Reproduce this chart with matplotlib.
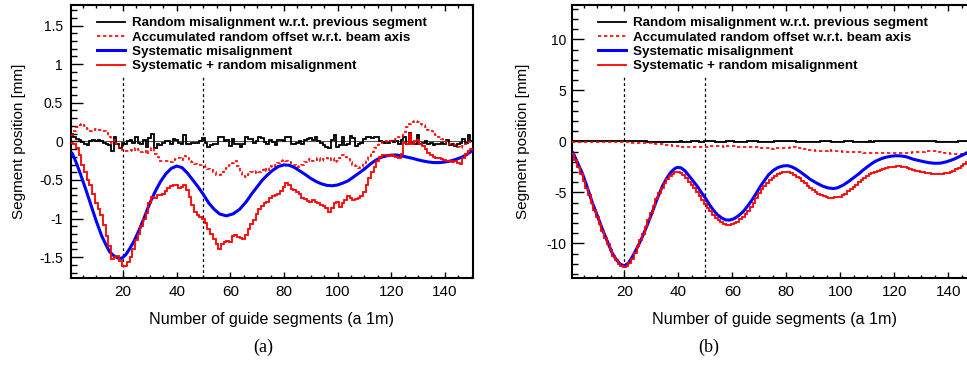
import numpy as np
import matplotlib
matplotlib.use("Agg")
import matplotlib.pyplot as plt
from matplotlib.lines import Line2D
from matplotlib.ticker import MultipleLocator, FuncFormatter

plt.rcParams['font.family'] = ['Liberation Sans', 'DejaVu Sans']
plt.rcParams['axes.unicode_minus'] = False

# ---------------- data: panel (a) ----------------
segments = np.arange(1, 151)

a_random = [0.10, 0.06, 0.03, 0.02, -0.01, -0.03, -0.05, 0.00, 0.02, 0.01,
            0.02, 0.00, -0.02, -0.03, -0.05, -0.13, 0.06, -0.03, -0.09, -0.02,
            -0.03, 0.01, 0.02, -0.02, 0.06, -0.02, -0.03, 0.02, -0.07, 0.04,
            0.09, -0.09, -0.03, -0.05, -0.02, 0.01, 0.01, -0.03, 0.03, 0.02,
            -0.02, -0.03, 0.08, -0.03, -0.03, -0.02, -0.02, -0.02, 0.01, 0.04,
            -0.02, -0.07, -0.05, -0.03, -0.03, 0.06, 0.05, 0.00, 0.02, -0.06,
            0.03, -0.04, -0.03, -0.07, -0.04, 0.06, 0.03, 0.03, -0.02, 0.01,
            0.05, 0.04, -0.01, -0.03, 0.02, -0.01, -0.05, 0.02, 0.02, 0.01,
            0.06, 0.05, -0.04, -0.04, -0.02, 0.01, -0.04, 0.02, 0.03, 0.04,
            0.02, 0.06, 0.01, -0.02, -0.05, -0.07, -0.08, 0.02, 0.08, -0.07,
            -0.05, 0.05, -0.05, -0.04, 0.07, 0.04, -0.06, -0.03, -0.02, 0.03,
            0.05, 0.06, 0.04, 0.06, 0.05, 0.00, -0.01, -0.02, -0.02, 0.01,
            -0.01, 0.00, -0.03, 0.02, 0.06, -0.04, 0.11, -0.02, -0.03, 0.08,
            -0.04, -0.02, 0.01, -0.03, -0.02, -0.05, -0.04, -0.04, -0.02, -0.03,
            0.02, -0.05, -0.04, -0.06, -0.03, -0.02, 0.03, -0.02, 0.08, 0.00]

a_accum = [0.08, 0.14, 0.18, 0.21, 0.22, 0.20, 0.16, 0.14, 0.15, 0.16,
           0.15, 0.15, 0.13, 0.11, 0.05, -0.02, 0.02, -0.03, -0.09, -0.11,
           -0.13, -0.12, -0.11, -0.13, -0.08, -0.11, -0.14, -0.13, -0.17, -0.12,
           -0.09, -0.16, -0.20, -0.25, -0.26, -0.26, -0.25, -0.27, -0.24, -0.23,
           -0.22, -0.24, -0.19, -0.22, -0.25, -0.27, -0.29, -0.31, -0.30, -0.30,
           -0.33, -0.36, -0.37, -0.40, -0.43, -0.44, -0.40, -0.36, -0.34, -0.30,
           -0.28, -0.26, -0.32, -0.40, -0.45, -0.46, -0.42, -0.40, -0.41, -0.39,
           -0.40, -0.37, -0.35, -0.38, -0.32, -0.33, -0.30, -0.28, -0.26, -0.24,
           -0.25, -0.27, -0.29, -0.31, -0.33, -0.32, -0.30, -0.27, -0.25, -0.23,
           -0.26, -0.24, -0.22, -0.25, -0.23, -0.21, -0.24, -0.22, -0.27, -0.25,
           -0.21, -0.18, -0.20, -0.23, -0.27, -0.30, -0.32, -0.34, -0.33, -0.28,
           -0.24, -0.19, -0.14, -0.09, -0.05, -0.02, -0.01, 0.00, -0.01, 0.00,
           0.01, 0.03, 0.05, 0.07, 0.12, 0.18, 0.22, 0.25, 0.26, 0.25,
           0.23, 0.21, 0.18, 0.15, 0.13, 0.10, 0.08, 0.05, 0.03, 0.01,
           -0.02, -0.03, -0.04, -0.05, -0.07, -0.08, -0.06, -0.04, -0.01, 0.01]

a_sys_x = [1, 2.5, 4, 6, 8, 10, 12, 13.5, 15, 16.5, 18, 19.5, 21, 22.5, 24, 26,
           28, 30, 32, 34, 36, 38, 40, 42, 44, 46, 48, 50, 52, 54, 56, 58.5,
           61, 63.5, 66, 68, 70, 72, 74, 76, 78, 80, 82, 84, 86, 88, 90, 92,
           94, 96, 98, 100, 102, 104, 106, 108, 110, 112, 114, 116, 118, 120,
           122, 124, 126, 128, 130, 132, 134, 136, 138, 140, 142, 144, 146,
           148, 150]
a_sys_y = [-0.15, -0.27, -0.41, -0.61, -0.82, -1.03, -1.22, -1.33, -1.43, -1.48,
           -1.51, -1.515, -1.47, -1.39, -1.30, -1.15, -0.98, -0.80, -0.65, -0.52,
           -0.42, -0.35, -0.32, -0.34, -0.41, -0.50, -0.59, -0.69, -0.80, -0.88,
           -0.94, -0.965, -0.94, -0.88, -0.78, -0.68, -0.59, -0.50, -0.43, -0.37,
           -0.325, -0.305, -0.31, -0.34, -0.385, -0.43, -0.48, -0.52, -0.55,
           -0.57, -0.575, -0.565, -0.54, -0.51, -0.46, -0.41, -0.36, -0.30,
           -0.25, -0.21, -0.19, -0.178, -0.177, -0.19, -0.205, -0.22, -0.24,
           -0.255, -0.268, -0.275, -0.275, -0.268, -0.255, -0.235, -0.21,
           -0.175, -0.125]

a_total = [-0.02, -0.04, -0.08, -0.18, -0.30, -0.40, -0.50, -0.57, -0.68, -0.80,
           -0.88, -0.96, -1.08, -1.22, -1.35, -1.52, -1.50, -1.49, -1.55, -1.61,
           -1.61, -1.56, -1.50, -1.40, -1.28, -1.20, -1.10, -1.00, -0.93, -0.80,
           -0.72, -0.74, -0.70, -0.70, -0.68, -0.64, -0.60, -0.58, -0.56, -0.57,
           -0.60, -0.59, -0.57, -0.63, -0.72, -0.82, -0.91, -0.96, -0.98, -1.00,
           -1.06, -1.13, -1.20, -1.27, -1.33, -1.39, -1.33, -1.30, -1.29, -1.30,
           -1.22, -1.21, -1.24, -1.25, -1.26, -1.21, -1.13, -1.07, -1.02, -0.94,
           -0.88, -0.84, -0.80, -0.78, -0.74, -0.71, -0.70, -0.68, -0.64, -0.59,
           -0.54, -0.57, -0.62, -0.63, -0.65, -0.68, -0.73, -0.75, -0.77, -0.78,
           -0.76, -0.78, -0.80, -0.82, -0.84, -0.86, -0.92, -0.86, -0.80, -0.78,
           -0.85, -0.80, -0.76, -0.71, -0.73, -0.76, -0.75, -0.73, -0.71, -0.65,
           -0.57, -0.48, -0.40, -0.33, -0.25, -0.20, -0.18, -0.18, -0.19, -0.18,
           -0.19, -0.20, -0.21, -0.16, -0.02, -0.04, 0.10, -0.03, 0.01, 0.02,
           -0.03, -0.06, -0.10, -0.15, -0.18, -0.20, -0.21, -0.22, -0.23, -0.24,
           -0.25, -0.26, -0.27, -0.26, -0.28, -0.29, -0.22, -0.16, -0.13, -0.10]

# ---------------- data: panel (b) ----------------
b_random = [0.01, -0.01, 0.00, -0.01, -0.01, 0.00, -0.01, 0.00, -0.01, 0.00,
            -0.01, 0.00, -0.01, 0.00, -0.01, 0.00, 0.01, 0.00, -0.01, 0.00,
            0.00, -0.01, -0.01, 0.00, -0.01, -0.01, 0.00, -0.01, -0.02, -0.02,
            -0.02, -0.03, -0.03, -0.03, -0.03, -0.03, -0.04, -0.04, -0.04, -0.02,
            0.00, -0.02, -0.03, -0.02, -0.01, 0.02, 0.01, -0.02, -0.02, 0.03,
            0.04, 0.06, 0.03, -0.02, -0.03, -0.02, -0.02, 0.02, 0.02, 0.01,
            -0.03, -0.03, -0.02, -0.02, -0.02, 0.01, 0.02, 0.02, -0.01, -0.03,
            -0.04, -0.03, -0.03, -0.02, -0.02, 0.02, 0.01, 0.01, 0.02, 0.02,
            0.02, 0.02, 0.00, -0.02, -0.04, -0.04, -0.05, -0.05, -0.05, -0.04,
            -0.03, -0.02, 0.01, 0.01, 0.02, 0.02, -0.02, -0.03, -0.03, -0.02,
            -0.02, -0.01, -0.01, 0.01, -0.02, -0.02, -0.02, -0.02, -0.02, -0.02,
            -0.01, -0.02, -0.01, -0.01, 0.00, 0.01, 0.01, 0.01, 0.01, 0.01,
            0.01, 0.00, 0.01, 0.01, 0.00, 0.00, 0.01, 0.02, 0.02, 0.02,
            0.02, 0.02, 0.02, 0.01, 0.01, -0.02, -0.03, -0.05, -0.05, -0.05,
            -0.05, -0.03, -0.02, 0.00, 0.01, 0.02, 0.02, -0.02, -0.03, -0.02]

b_accum = [-0.02, -0.03, -0.03, -0.04, -0.05, -0.05, -0.06, -0.06, -0.07, -0.07,
           -0.08, -0.08, -0.09, -0.09, -0.10, -0.10, -0.09, -0.09, -0.10, -0.10,
           -0.10, -0.11, -0.12, -0.12, -0.13, -0.14, -0.14, -0.15, -0.17, -0.19,
           -0.21, -0.24, -0.27, -0.30, -0.33, -0.36, -0.40, -0.44, -0.48, -0.50,
           -0.50, -0.52, -0.55, -0.57, -0.58, -0.56, -0.55, -0.57, -0.59, -0.56,
           -0.52, -0.46, -0.43, -0.45, -0.48, -0.50, -0.52, -0.50, -0.48, -0.47,
           -0.50, -0.53, -0.55, -0.57, -0.59, -0.58, -0.56, -0.54, -0.55, -0.58,
           -0.62, -0.65, -0.68, -0.70, -0.72, -0.70, -0.69, -0.68, -0.66, -0.64,
           -0.62, -0.60, -0.60, -0.62, -0.66, -0.70, -0.75, -0.80, -0.85, -0.89,
           -0.92, -0.94, -0.93, -0.92, -0.90, -0.88, -0.90, -0.93, -0.96, -0.98,
           -1.00, -1.01, -1.02, -1.01, -1.03, -1.05, -1.07, -1.09, -1.11, -1.13,
           -1.14, -1.16, -1.17, -1.18, -1.18, -1.17, -1.16, -1.15, -1.14, -1.13,
           -1.12, -1.12, -1.11, -1.10, -1.10, -1.10, -1.09, -1.07, -1.05, -1.03,
           -1.01, -0.99, -0.97, -0.96, -0.95, -0.97, -1.00, -1.05, -1.10, -1.15,
           -1.20, -1.23, -1.25, -1.25, -1.24, -1.22, -1.20, -1.22, -1.25, -1.27]

b_sys_x = [1, 2.5, 4.4, 6, 8, 10, 12, 14, 15.5, 17, 18.5, 20, 21.5, 23, 25,
           26.7, 28.5, 30.4, 32, 34, 35.5, 37, 38.5, 39.6, 41, 42.5, 44, 45.5,
           47, 48.5, 50, 51.5, 53, 54.5, 56, 57.5, 59, 60.5, 62, 64, 65.5, 67,
           68.5, 70.4, 72, 73.5, 75.3, 77, 79, 80.5, 82, 83.5, 85.2, 87, 89,
           91.4, 93.5, 95.5, 97.5, 99, 101, 103, 105, 107, 108.5, 110, 111.5,
           113, 114.7, 116.5, 118.5, 120.5, 122.5, 124.5, 127, 129, 131, 133,
           135, 137, 139.4, 141, 142.5, 144, 145.6, 147, 148.5, 150]
b_sys_y = [-1.1, -2.0, -3.1, -4.3, -5.9, -7.3, -8.7, -10.0, -10.95, -11.6,
           -12.05, -12.2, -11.95, -11.3, -10.3, -9.35, -8.2, -6.9, -5.75, -4.45,
           -3.7, -3.1, -2.7, -2.55, -2.6, -2.9, -3.4, -3.9, -4.4, -5.0, -5.55,
           -6.2, -6.75, -7.2, -7.5, -7.7, -7.72, -7.6, -7.35, -6.9, -6.4, -5.85,
           -5.25, -4.4, -3.8, -3.25, -2.82, -2.55, -2.4, -2.38, -2.5, -2.7, -3.0,
           -3.35, -3.75, -4.12, -4.4, -4.57, -4.63, -4.55, -4.3, -3.95, -3.55,
           -3.15, -2.8, -2.5, -2.2, -1.95, -1.75, -1.58, -1.47, -1.41, -1.43,
           -1.52, -1.75, -1.88, -2.0, -2.1, -2.15, -2.14, -2.0, -1.85, -1.7,
           -1.5, -1.3, -1.1, -0.95, -0.85]

b_total = [-1.2, -1.8, -2.5, -3.2, -3.9, -4.6, -5.3, -6.0, -6.7, -7.4,
           -8.1, -8.8, -9.5, -10.1, -10.7, -11.2, -11.6, -12.0, -12.2, -12.3,
           -12.2, -11.9, -11.5, -10.9, -10.3, -9.7, -9.1, -8.4, -7.7, -7.0,
           -6.3, -5.7, -5.1, -4.6, -4.1, -3.7, -3.4, -3.2, -3.05, -3.0,
           -3.1, -3.3, -3.6, -3.95, -4.25, -4.6, -4.95, -5.35, -5.75, -6.1,
           -6.5, -6.85, -7.2, -7.5, -7.75, -7.95, -8.1, -8.2, -8.22, -8.12,
           -8.0, -7.88, -7.65, -7.45, -7.15, -6.8, -6.4, -6.0, -5.6, -5.1,
           -4.7, -4.4, -4.05, -3.8, -3.55, -3.4, -3.25, -3.15, -3.05, -3.02,
           -3.05, -3.1, -3.3, -3.45, -3.6, -3.85, -4.1, -4.35, -4.6, -4.8,
           -4.97, -5.15, -5.3, -5.4, -5.47, -5.52, -5.52, -5.5, -5.47, -5.43,
           -5.3, -5.12, -4.9, -4.68, -4.47, -4.25, -4.03, -3.82, -3.6, -3.42,
           -3.25, -3.1, -2.98, -2.88, -2.78, -2.7, -2.62, -2.55, -2.5, -2.47,
           -2.45, -2.45, -2.47, -2.52, -2.6, -2.7, -2.8, -2.9, -2.95, -3.0,
           -3.05, -3.1, -3.15, -3.2, -3.25, -3.25, -3.25, -3.2, -3.15, -3.1,
           -3.0, -2.9, -2.75, -2.6, -2.4, -2.2, -2.0, -1.8, -1.6, -1.4]

labels = ["Random misalignment w.r.t. previous segment",
          "Accumulated random offset w.r.t. beam axis",
          "Systematic misalignment",
          "Systematic + random misalignment"]
x_ticks = [20, 40, 60, 80, 100, 120, 140]
marker_segments = [20, 50]
panel_names = ["(a)", "(b)"]

# ---------------- figure ----------------
W, H = 967, 367
fig = plt.figure(figsize=(W / 100, H / 100), dpi=100)
ax_h = 272.7 / H
ax_b = 1 - 277.7 / H
ax1 = fig.add_axes([70.7 / W, ax_b, 402.3 / W, ax_h])
ax2 = fig.add_axes([571.7 / W, ax_b, 405.0 / W, ax_h])

edges = np.concatenate([segments - 0.5, [segments[-1] + 0.5]])

RED = '#ff0000'
BLUE = '#0000ff'
DOT = (0, (2.0, 1.6))


def fmt(v, pos):
    v = round(v, 6)
    if v == 0:
        return '0'
    return '%g' % v


def draw(ax, rnd, acc, sx, sy, tot, ylim, ymajor, yminor, ypad, vtop, lab_x):
    ax.axhline(0, color='#555555', lw=0.8, zorder=1)
    ax.stairs(rnd, edges, baseline=None, color='black', lw=1.3, zorder=2)
    ax.stairs(acc, edges, baseline=None, color=RED, lw=1.2,
              linestyle=DOT, zorder=3)
    ax.plot(sx, sy, color=BLUE, lw=2.2, zorder=4, solid_capstyle='round',
            solid_joinstyle='round')
    ax.stairs(tot, edges, baseline=None, color=RED, lw=1.3, zorder=5)
    for xs in marker_segments:
        ax.axvline(xs, ymin=0, ymax=vtop, color='black', lw=0.9,
                   linestyle=(0, (2.2, 2.2)), zorder=1)
    ax.set_xlim(edges[0], edges[-1])
    ax.set_ylim(-ylim, ylim)
    ax.set_xticks(x_ticks)
    ax.xaxis.set_minor_locator(MultipleLocator(5))
    ax.yaxis.set_major_locator(MultipleLocator(ymajor))
    ax.yaxis.set_minor_locator(MultipleLocator(yminor))
    ax.yaxis.set_major_formatter(FuncFormatter(fmt))
    ax.tick_params(axis='x', which='major', direction='in', length=4.3, width=1,
                   top=True, labelsize=11, pad=5.5)
    ax.tick_params(axis='x', which='minor', direction='in', length=2.2, width=1,
                   top=True)
    ax.tick_params(axis='y', which='major', direction='in', length=8.6, width=1,
                   right=False, labelsize=10, pad=ypad)
    ax.tick_params(axis='y', which='minor', direction='in', length=4.3, width=1,
                   right=False)
    for s in ax.spines.values():
        s.set_linewidth(1.5)
    ax.set_xlabel("Number of guide segments (a 1m)", fontsize=11.6)
    ax.set_ylabel("Segment position [mm]", fontsize=11)
    ax.xaxis.label.set_va('center')
    ax.xaxis.set_label_coords(0.5, -0.155)
    ax.yaxis.label.set_va('center')
    ax.yaxis.set_label_coords(lab_x, 0.5)
    handles = [Line2D([], [], color='black', lw=1.3),
               Line2D([], [], color=RED, lw=1.2, linestyle=DOT),
               Line2D([], [], color=BLUE, lw=2.2),
               Line2D([], [], color=RED, lw=1.3)]
    ax.legend(handles, labels, loc='upper left', frameon=False,
              bbox_to_anchor=(0.066, 0.9566), borderaxespad=0, borderpad=0,
              handlelength=2.1, handletextpad=0.5, labelspacing=0.15,
              prop={'weight': 'bold', 'size': 9.6})


draw(ax1, a_random, a_accum, a_sys_x, a_sys_y, a_total, 1.766, 0.5, 0.1, 5.5,
     0.74, -0.1285)
draw(ax2, b_random, b_accum, b_sys_x, b_sys_y, b_total, 13.37, 5, 1, 3.8,
     0.74, -0.1195)

fig.text(263 / W, 1 - 347 / H, panel_names[0], ha='center', va='center',
         fontsize=13, family=['Liberation Serif', 'DejaVu Serif'])
fig.text(709 / W, 1 - 347 / H, panel_names[1], ha='center', va='center',
         fontsize=13, family=['Liberation Serif', 'DejaVu Serif'])

fig.savefig('out.png', dpi=100)
